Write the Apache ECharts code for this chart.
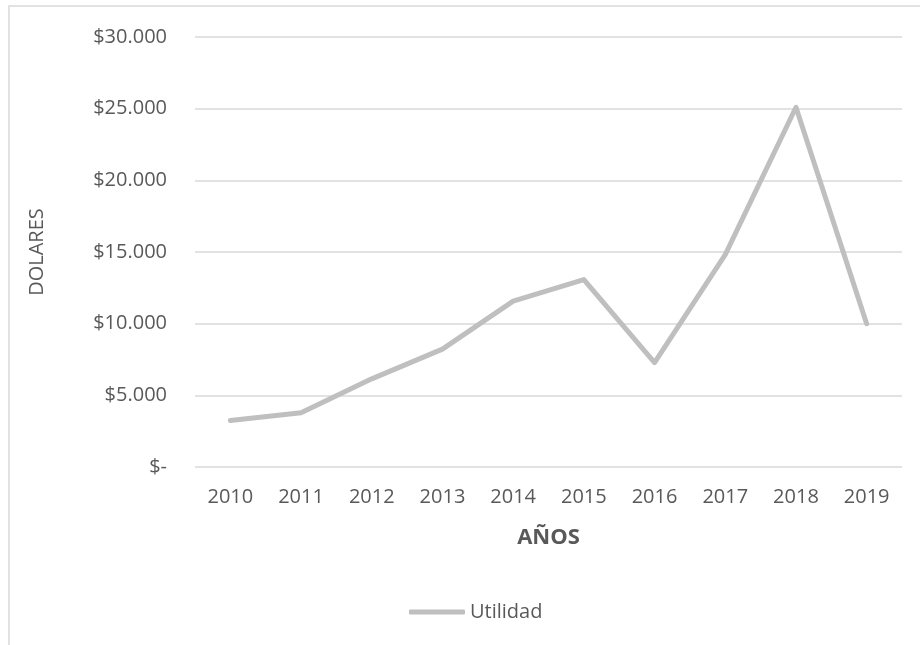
<!DOCTYPE html>
<html><head><meta charset="utf-8">
<script src="https://cdn.jsdelivr.net/npm/echarts@6/dist/echarts.min.js"></script>
<style>html,body{margin:0;padding:0;background:#fff}#c{width:920px;height:645px}</style>
</head><body><div id="c"></div>
<script>
const years = ['2010','2011','2012','2013','2014','2015','2016','2017','2018','2019'];
const utilidad = [3250, 3780, 6150, 8220, 11570, 13080, 7290, 14820, 25100, 10000];
const seriesName = 'Utilidad';
const xTitle = 'AÑOS';
const yTitle = 'DOLARES';
const font = '"Open Sans", Lato, sans-serif';
const chart = echarts.init(document.getElementById('c'));
function fmt(v){ if(v===0) return '$-'; return '$' + String(v).replace(/\B(?=(\d{3})+(?!\d))/g,'.'); }
chart.setOption({
  animation:false,
  backgroundColor:'#fff',
  graphic:[{type:'rect',shape:{x:9,y:6,width:940,height:700},style:{fill:'none',stroke:'#D9D9D9',lineWidth:1.5},silent:true}],
  grid:{left:195,right:18,top:37,bottom:178},
  legend:{top:597,left:404,itemWidth:56,itemHeight:5,itemGap:10,
    textStyle:{color:'#595959',fontSize:20,fontFamily:font},
    data:[{name:seriesName,icon:'roundRect'}]},
  xAxis:{type:'category',data:years,boundaryGap:true,
    axisLine:{show:false},axisTick:{show:false},
    axisLabel:{color:'#595959',fontSize:20,fontFamily:font,margin:20},
    name:xTitle,nameLocation:'middle',nameGap:60,
    nameTextStyle:{color:'#595959',fontSize:22,fontWeight:'bold',fontFamily:font}},
  yAxis:{type:'value',min:0,max:30000,interval:5000,
    axisLine:{show:false},axisTick:{show:false},
    splitLine:{lineStyle:{color:'#D9D9D9',width:1.5}},
    axisLabel:{color:'#595959',fontSize:20,fontFamily:font,margin:28,formatter:fmt},
    name:yTitle,nameLocation:'middle',nameGap:148,nameRotate:90,
    nameTextStyle:{color:'#595959',fontSize:20,fontFamily:font}},
  series:[{name:seriesName,type:'line',data:utilidad,symbol:'none',
    lineStyle:{color:'#BFBFBF',width:5,cap:'round',join:'round'},itemStyle:{color:'#BFBFBF'}}]
});
</script></body></html>
